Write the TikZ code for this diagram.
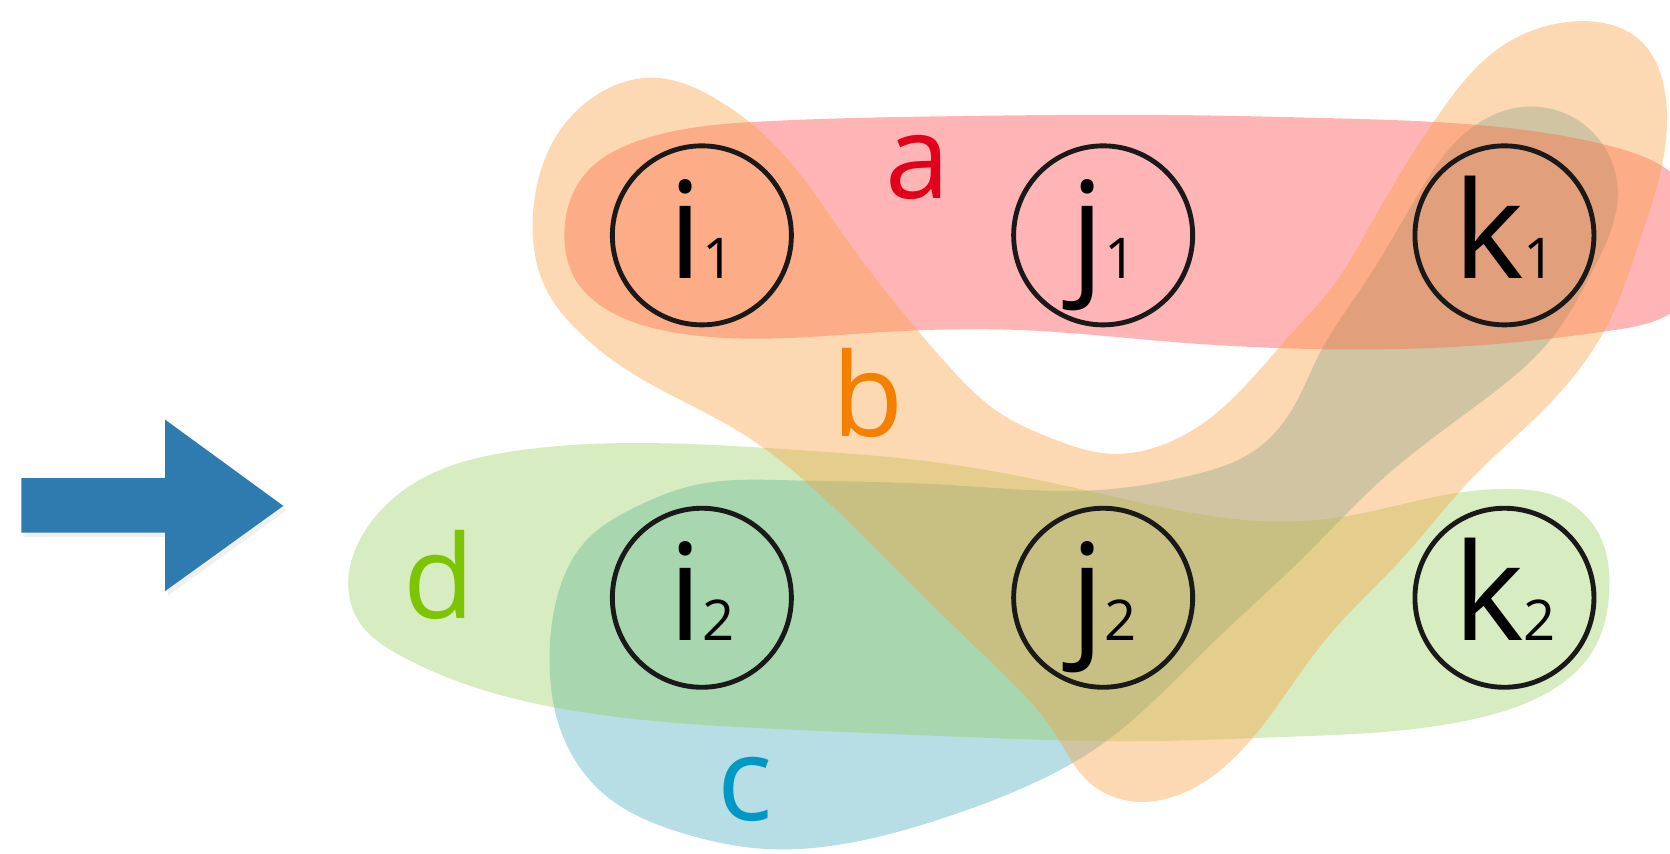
\documentclass[tikz,border=0pt]{standalone}
\usepackage{fontspec}
\setmainfont{Open Sans}
\usetikzlibrary{positioning, shadows, hobby}
\definecolor{arrowblue}{RGB}{46,123,175}
\definecolor{edgeA}{RGB}{255,60,60}
\definecolor{edgeB}{RGB}{249,160,64}
\definecolor{edgeC}{RGB}{30,150,175}
\definecolor{edgeD}{RGB}{140,200,75}
\definecolor{labA}{RGB}{226,0,26}
\definecolor{labB}{RGB}{245,128,0}
\definecolor{labC}{RGB}{0,152,196}
\definecolor{labD}{RGB}{125,197,0}
\newcommand{\vsub}[1]{{\fontsize{15}{15}\selectfont #1}}

\begin{document}
\begin{tikzpicture}[x=0.01cm, y=-0.01cm, node distance=1.675cm and 2.04cm,
    vtx/.style={circle, draw=black!90, line width=1.3pt, minimum size=1.68cm,
      inner sep=0pt, text height=26pt, text depth=3.2pt,
      font=\fontsize{36}{36}\selectfont},
    elbl/.style={inner sep=0pt, font=\fontsize{31}{31}\selectfont},
    hedgeA/.style={fill=edgeA, fill opacity=0.38},
    hedgeB/.style={fill=edgeB, fill opacity=0.4},
    hedgeC/.style={fill=edgeC, fill opacity=0.32},
    hedgeD/.style={fill=edgeD, fill opacity=0.35}]
  \useasboundingbox (0,0) rectangle (1568,801);

  % big arrow
  \fill[arrowblue, drop shadow={opacity=0.12, shadow xshift=0.8pt, shadow yshift=-1.2pt}]
    (20,449) -- (155,449) -- (155,394) -- (266,475) -- (155,555) -- (155,500) -- (20,500) -- cycle;

  % hyperedges
  \fill[hedgeC, use Hobby shortcut, closed=true]
    (597,476) .. (550,508) .. (522,565) .. (516,623) .. (528,690) .. (570,748)
    .. (640,782) .. (717,797) .. (800,791) .. (880,770) .. (960,740) .. (1033,700)
    .. (1135,607) .. (1221,526) .. (1300,448) .. (1390,378) .. (1455,320)
    .. (1495,255) .. (1519,180) .. (1499,128) .. (1437,100) .. (1383,119)
    .. (1330,185) .. (1280,268) .. (1240,330) .. (1211,388) .. (1175,425)
    .. (1120,446) .. (1033,460) .. (885,455) .. (741,451) .. (650,456);
  \fill[hedgeD, use Hobby shortcut, closed=true]
    (327,551) .. (345,495) .. (395,450) .. (480,424) .. (597,416) .. (741,422)
    .. (885,435) .. (1000,456) .. (1100,478) .. (1180,489) .. (1268,484)
    .. (1350,466) .. (1413,459) .. (1470,470) .. (1503,505) .. (1511,554)
    .. (1495,612) .. (1450,652) .. (1380,676) .. (1204,692) .. (1061,696)
    .. (932,693) .. (741,685) .. (549,669) .. (454,648) .. (375,615) .. (338,585);
  \fill[hedgeA, use Hobby shortcut, closed=true]
    (530,224) .. (548,165) .. (600,132) .. (717,114) .. (900,109) .. (1100,108)
    .. (1250,111) .. (1405,119) .. (1515,138) .. (1578,170) .. (1600,228)
    .. (1578,287) .. (1515,310) .. (1405,323) .. (1250,328) .. (1100,321)
    .. (960,310) .. (826,312) .. (717,318) .. (638,313) .. (572,292) .. (540,262);
  \fill[hedgeB, use Hobby shortcut, closed=true]
    (613,73) .. (669,91) .. (732,141) .. (795,225) .. (848,294) .. (890,343)
    .. (939,388) .. (986,411) .. (1042,426) .. (1096,416) .. (1142,388)
    .. (1183,347) .. (1220,305) .. (1249,272) .. (1289,207) .. (1352,106)
    .. (1405,47) .. (1480,20) .. (1540,38) .. (1563,85) .. (1563,141)
    .. (1540,225) .. (1505,313) .. (1440,394) .. (1385,446) .. (1315,526)
    .. (1245,600) .. (1169,701) .. (1110,745) .. (1060,752) .. (1020,732)
    .. (990,688) .. (932,623) .. (836,529) .. (755,451) .. (700,409)
    .. (640,376) .. (585,345) .. (545,313) .. (513,272) .. (501,194)
    .. (524,125) .. (562,88);

  % vertices
  \node[vtx] (i1) at (659,221) {i\vsub{1}};
  \node[vtx, right=of i1] (j1) {j\vsub{1}};
  \node[vtx, right=of j1] (k1) {k\vsub{1}};
  \node[vtx, below=of i1] (i2) {i\vsub{2}};
  \node[vtx, right=of i2] (j2) {j\vsub{2}};
  \node[vtx, right=of j2] (k2) {k\vsub{2}};

  % edge labels
  \node[elbl, text=labA] (la) at (862,157) {a};
  \node[elbl, text=labB] (lb) at (815,369) {b};
  \node[elbl, text=labC] (lc) at (700,741) {c};
  \node[elbl, text=labD] (ld) at (412,540) {d};
\end{tikzpicture}
\end{document}
